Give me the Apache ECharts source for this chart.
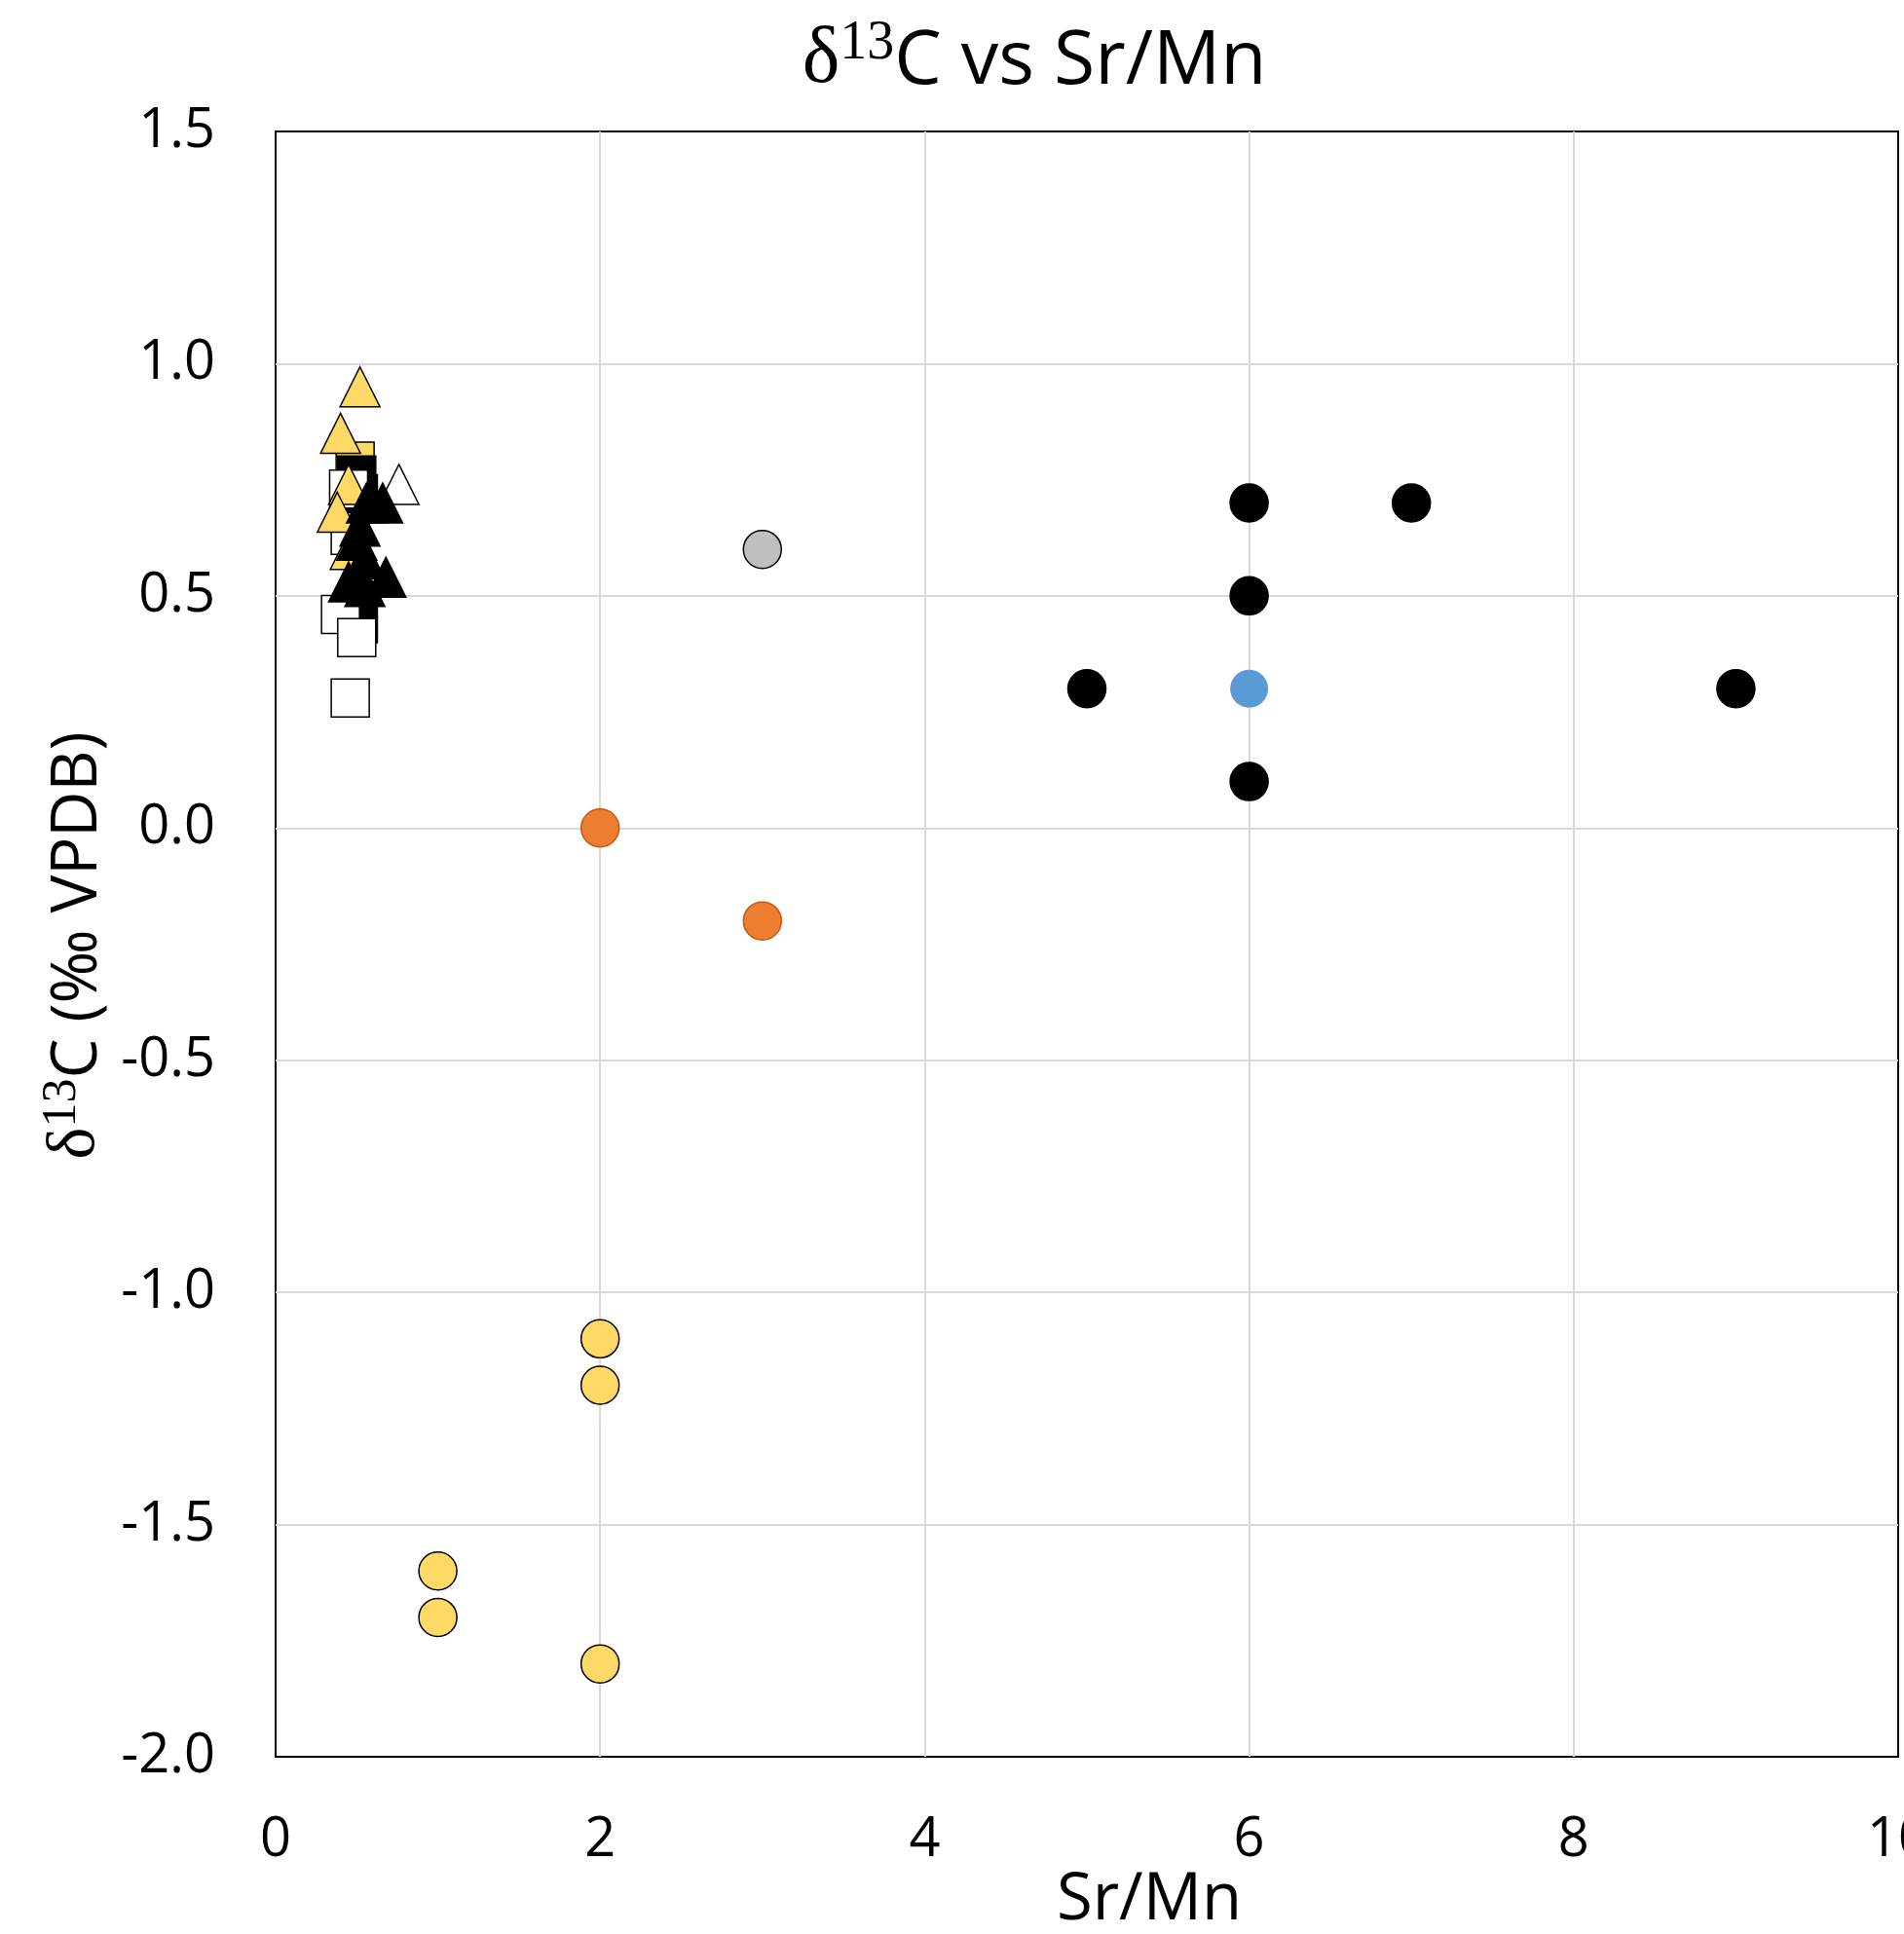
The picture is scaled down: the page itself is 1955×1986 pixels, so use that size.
<!DOCTYPE html>
<html>
<head>
<meta charset="utf-8">
<style>html,body{margin:0;padding:0;background:#fff;}#c{width:1955px;height:1986px;}</style>
<script src="https://cdn.jsdelivr.net/npm/echarts@6/dist/echarts.min.js"></script>
</head>
<body>
<div id="c"></div>
<script>
// ---- data (Sr/Mn, d13C) ----
const xTicks = [0, 2, 4, 6, 8, 10];
const yTicks = [-2.0, -1.5, -1.0, -0.5, 0.0, 0.5, 1.0, 1.5];

const yellowSquares = [[0.49, 0.79]];
const blackSquares = [[0.50, 0.76], [0.51, 0.72], [0.51, 0.44]];
const whiteSquares = [[0.45, 0.73], [0.46, 0.63], [0.40, 0.46], [0.50, 0.41], [0.46, 0.28]];
const yellowTriangles = [[0.52, 0.95], [0.40, 0.85], [0.45, 0.74], [0.38, 0.68], [0.46, 0.60]];
const whiteTriangles = [[0.76, 0.74]];
const blackTriangles = [[0.56, 0.70], [0.66, 0.70], [0.52, 0.65], [0.50, 0.62], [0.55, 0.58],
                        [0.45, 0.53], [0.55, 0.52], [0.68, 0.54]];

const blackCircles = [[6, 0.7], [7, 0.7], [6, 0.5], [5, 0.3], [9, 0.3], [6, 0.1]];
const blueCircles = [[6, 0.3]];
const grayCircles = [[3, 0.6]];
const orangeCircles = [[2, 0.0], [3, -0.2]];
const yellowCircles = [[2, -1.1], [2, -1.2], [1, -1.6], [1, -1.7], [2, -1.8]];

const chart = echarts.init(document.getElementById('c'));
const FONT = 'Open Sans';

function sc(data, symbol, size, color, border, bw) {
  return {
    type: 'scatter', data: data, symbol: symbol, symbolSize: size,
    itemStyle: { color: color, borderColor: border || color, borderWidth: bw === undefined ? 1.5 : bw, opacity: 1 },
    emphasis: { disabled: true }, animation: false
  };
}

chart.setOption({
  animation: false,
  backgroundColor: '#ffffff',
  grid: { left: 283, right: 6, top: 135, bottom: 182, containLabel: false, outerBoundsMode: 'none',
          show: true, borderColor: '#000', borderWidth: 2, backgroundColor: 'transparent' },
  xAxis: {
    type: 'value', min: xTicks[0], max: xTicks[xTicks.length - 1], interval: 2,
    axisLine: { show: false }, axisTick: { show: false },
    splitLine: { show: true, showMinLine: false, showMaxLine: false, lineStyle: { color: '#d9d9d9', width: 2 } },
    axisLabel: { fontFamily: FONT, fontSize: 56, color: '#000', margin: 58, showMaxLabel: true, hideOverlap: false }
  },
  yAxis: {
    type: 'value', min: yTicks[0], max: yTicks[yTicks.length - 1], interval: 0.5,
    axisLine: { show: false }, axisTick: { show: false },
    splitLine: { show: true, showMinLine: false, showMaxLine: false, lineStyle: { color: '#d9d9d9', width: 2 } },
    axisLabel: { fontFamily: FONT, fontSize: 56, color: '#000', margin: 62,
      formatter: v => v.toFixed(1) }
  },
  graphic: [
    { type: 'text', x: 1062, y: 103, style: {
      text: '{d|δ}{s|13}{t|C vs Sr/Mn}', align: 'center', verticalAlign: 'bottom',
      rich: {
        d: { fontFamily: 'Liberation Serif', fontSize: 82, fill: '#000', lineHeight: 86, verticalAlign: 'bottom' },
        s: { fontFamily: 'Liberation Serif', fontSize: 56, fill: '#000', lineHeight: 86, verticalAlign: 'top' },
        t: { fontFamily: FONT, fontSize: 77, fill: '#000', lineHeight: 86, verticalAlign: 'bottom' }
      } } },
    { type: 'text', x: 76, y: 971, rotation: Math.PI / 2, style: {
      text: '{d|δ}{s|13}{t|C (‰ VPDB)}', align: 'center', verticalAlign: 'middle',
      rich: {
        d: { fontFamily: 'Liberation Serif', fontSize: 70, fill: '#000', lineHeight: 74, verticalAlign: 'bottom' },
        s: { fontFamily: 'Liberation Serif', fontSize: 50, fill: '#000', lineHeight: 74, verticalAlign: 'top' },
        t: { fontFamily: FONT, fontSize: 65, fill: '#000', lineHeight: 74, verticalAlign: 'bottom' }
      } } },
    { type: 'text', x: 1180, y: 1918, style: {
      text: 'Sr/Mn', align: 'center', verticalAlign: 'top', fontFamily: FONT, fontSize: 67, fill: '#000' } }
  ],
  series: [
    sc(yellowSquares, 'rect', 39, '#FFD966', '#000'),
    sc(blackSquares, 'rect', 39, '#000000', '#000'),
    sc(whiteSquares, 'rect', 39, '#FFFFFF', '#000'),
    sc(yellowTriangles, 'triangle', 41, '#FFD966', '#000'),
    sc(whiteTriangles, 'triangle', 41, '#FFFFFF', '#000'),
    sc(blackTriangles, 'triangle', 41, '#000000', '#000'),
    sc(blackCircles, 'circle', 39, '#000000', '#000'),
    sc(blueCircles, 'circle', 39, '#5B9BD5', '#5B9BD5', 0),
    sc(grayCircles, 'circle', 39, '#BFBFBF', '#000'),
    sc(orangeCircles, 'circle', 39, '#ED7D31', '#C55A11'),
    sc(yellowCircles, 'circle', 39, '#FFD966', '#000')
  ]
});
</script>
</body>
</html>
